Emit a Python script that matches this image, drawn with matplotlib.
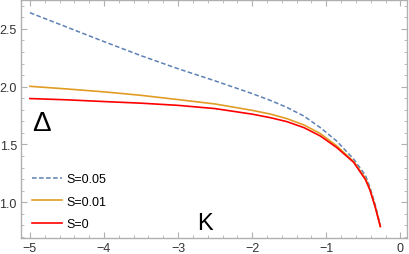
import matplotlib
matplotlib.use("Agg")
import matplotlib.pyplot as plt
from matplotlib.ticker import MultipleLocator

K = [-5.0, -4.5, -4.0, -3.5, -3.0, -2.5, -2.0, -1.75, -1.53, -1.3, -1.08, -0.86, -0.63, -0.47, -0.41, -0.34, -0.27]
delta_s005 = [2.64, 2.515, 2.39, 2.268, 2.155, 2.05, 1.94, 1.88, 1.82, 1.745, 1.645, 1.53, 1.373, 1.23, 1.13, 0.98, 0.80]
delta_s001 = [2.003, 1.98, 1.955, 1.925, 1.888, 1.85, 1.795, 1.762, 1.723, 1.668, 1.594, 1.488, 1.352, 1.205, 1.11, 0.963, 0.79]
delta_s0 = [1.897, 1.886, 1.871, 1.857, 1.838, 1.81, 1.762, 1.731, 1.697, 1.645, 1.573, 1.474, 1.345, 1.195, 1.105, 0.96, 0.79]

labels = ["S=0.05", "S=0.01", "S=0"]
colors = ["#5E81B5", "#E19C24", "#FF0000"]

plt.rcParams['font.family'] = ['Liberation Sans', 'DejaVu Sans']

fig = plt.figure(figsize=(4.09, 2.55), dpi=100)
ax = fig.add_axes([21/409, 16/255, 386/409, 238/255])

ax.plot(K, delta_s005, color=colors[0], lw=1.1, dashes=(3, 1.6), label=labels[0])
ax.plot(K, delta_s001, color=colors[1], lw=1.2, label=labels[1])
ax.plot(K, delta_s0, color=colors[2], lw=1.2, label=labels[2])

ax.set_xlim(-5.12, 0.09)
ax.set_ylim(0.69, 2.75)

ax.xaxis.set_major_locator(MultipleLocator(1))
ax.xaxis.set_minor_locator(MultipleLocator(0.2))
ax.yaxis.set_major_locator(MultipleLocator(0.5))
ax.yaxis.set_minor_locator(MultipleLocator(0.1))
ax.set_yticks([1.0, 1.5, 2.0, 2.5])
ax.set_yticklabels(["1.0", "1.5", "2.0", "2.5"])

for s in ax.spines.values():
    s.set_color("#b0b0b0")
    s.set_linewidth(1.0)
ax.tick_params(which='both', direction='in', top=True, right=True, color="#b0b0b0")
ax.tick_params(which='major', length=4, labelsize=9, labelcolor="#333333", pad=3)
ax.tick_params(which='minor', length=2)

ax.text(0.054, 0.483, "Δ", transform=ax.transAxes, fontsize=20, ha='center', va='center')
ax.text(0.477, 0.063, "K", transform=ax.transAxes, fontsize=17, ha='center', va='center')

ax.legend(loc='lower left', bbox_to_anchor=(0.0, -0.015), frameon=False, fontsize=9,
          handlelength=2.4, handletextpad=0.3, labelspacing=0.85)

fig.savefig("out.png", dpi=100)
